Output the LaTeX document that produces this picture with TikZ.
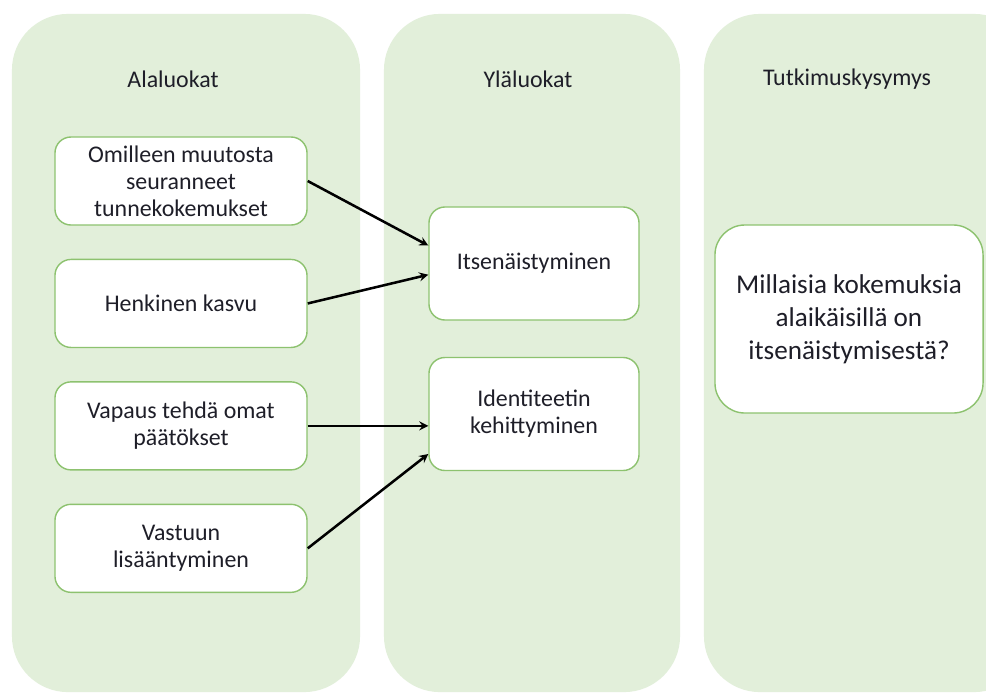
\documentclass[tikz,border=0pt]{standalone}
\usepackage{fontspec}
\setmainfont{Carlito}
\usepackage{tikz}
\usetikzlibrary{arrows,positioning}
\definecolor{colbg}{HTML}{E2EFDA}
\definecolor{boxline}{HTML}{8DC26F}
\definecolor{txt}{HTML}{1E1E28}
\tikzset{
  column/.style={fill=colbg,draw=none,rounded corners=1.4cm},
  coltitle/.style={text=txt,font=\fontsize{17}{19.2}\selectfont},
  catbox/.style={draw=boxline,fill=white,line width=1pt,rounded corners=0.4cm,
    align=center,text=txt,font=\fontsize{17}{19.2}\selectfont},
  qbox/.style={draw=boxline,fill=white,line width=1pt,rounded corners=0.75cm,
    align=center,text=txt,font=\fontsize{19.3}{23.5}\selectfont,
    minimum width=6.7cm,minimum height=4.7cm}
}
\begin{document}
\begin{tikzpicture}[x=0.025cm,y=-0.025cm,>=stealth,node distance=0.825cm,line width=1.8pt]
    \clip (0,0) rectangle (986,693);
    \fill[white] (0,0) rectangle (986,693);
    \node[column,minimum width=8.7cm,minimum height=16.95cm]  (c1) at (186,353) {};
    \node[column,minimum width=7.4cm,minimum height=16.95cm]  (c2) at (532,353) {};
    \node[column,minimum width=8.15cm,minimum height=16.95cm] (c3) at (867,353) {};
    \node[coltitle] (t1) at (173,79) {Alaluokat};
    \node[coltitle] (t2) at (528,79) {Yläluokat};
    \node[coltitle] (t3) at (847,79) {Tutkimuskysymys};
    \node[catbox,minimum width=6.3cm,minimum height=2.2cm] (b1) at (181,181) {Omilleen muutosta\\seuranneet\\tunnekokemukset};
    \node[catbox,minimum width=6.3cm,minimum height=2.2cm] (b2) [below=of b1] {Henkinen kasvu};
    \node[catbox,minimum width=6.3cm,minimum height=2.2cm] (b3) [below=of b2] {Vapaus tehdä omat\\päätökset};
    \node[catbox,minimum width=6.3cm,minimum height=2.2cm] (b4) [below=of b3] {Vastuun\\lisääntyminen};
    \node[catbox,minimum width=5.25cm,minimum height=2.825cm] (itse) at (534,263.5) {Itsenäistyminen};
    \node[catbox,minimum width=5.25cm,minimum height=2.825cm] (iden) at (534,414) {Identiteetin\\kehittyminen};
    \node[qbox] (q) at (849,319) {Millaisia kokemuksia\\alaikäisillä on\\itsenäistymisestä?};
    \draw[->] (b1.east) -- ([yshift=0.45cm]itse.west);
    \draw[->] (b2.east) -- ([yshift=-0.28cm]itse.west);
    \draw[->] (b3.east) -- (b3.east -| iden.west);
    \draw[->] (b4.east) -- ([yshift=-1.0cm]iden.west);
\end{tikzpicture}
\end{document}
